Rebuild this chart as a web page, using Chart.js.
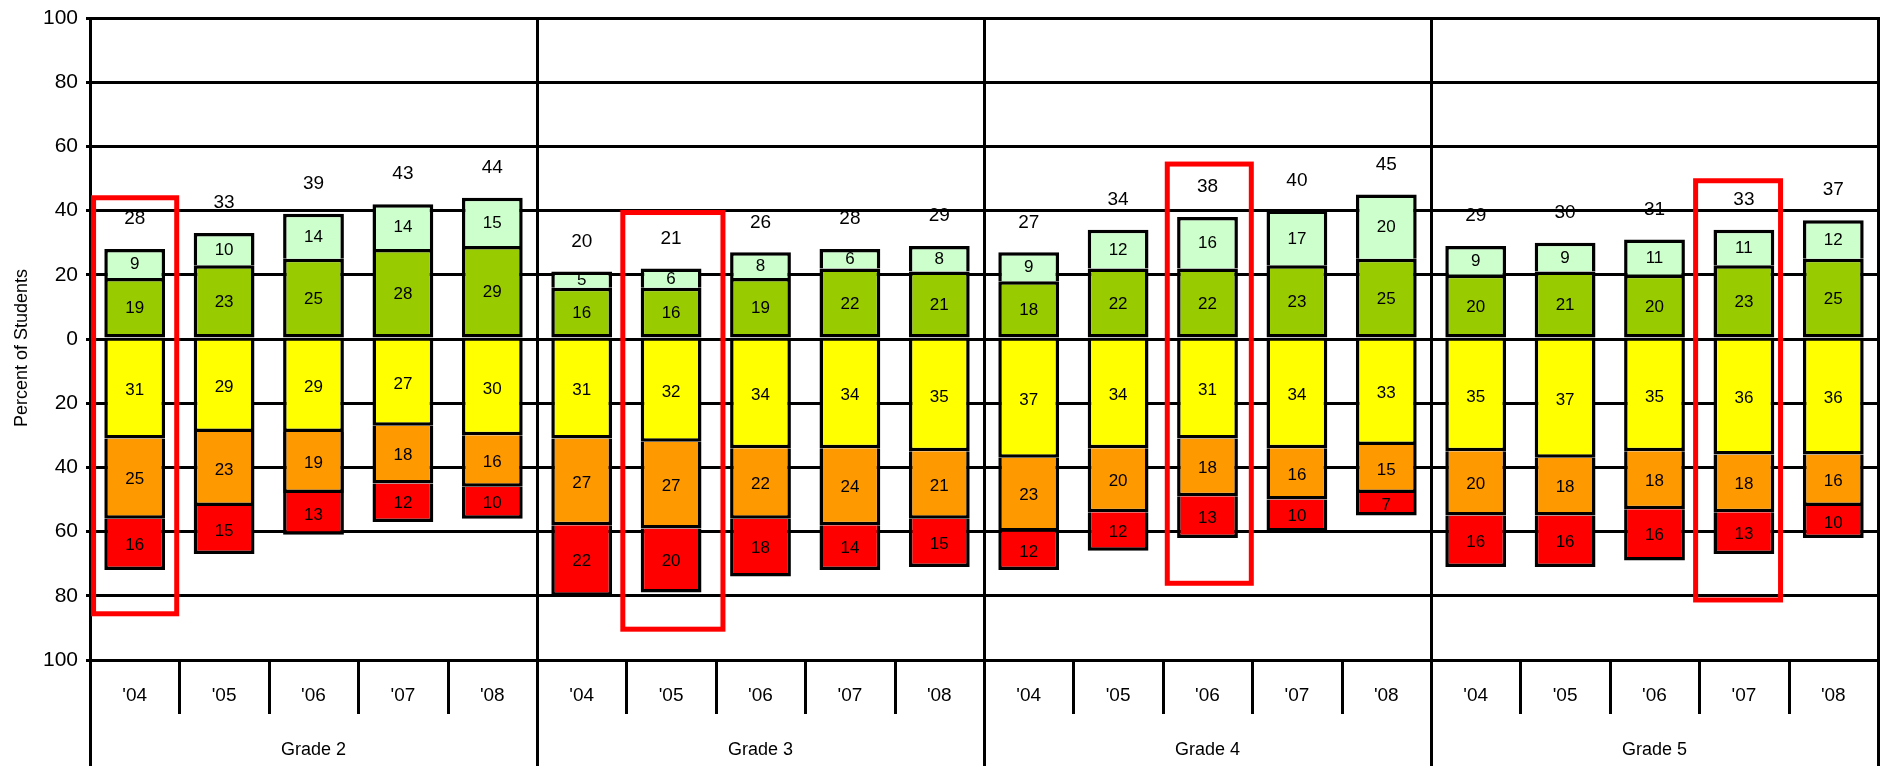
<!DOCTYPE html>
<html>
<head>
<meta charset="utf-8">
<script src="https://cdn.jsdelivr.net/npm/chart.js@4"></script>
<style>
  html, body { margin: 0; padding: 0; background: #ffffff; }
  #wrap { width: 1883px; height: 766px; }
</style>
</head>
<body>
<div id="wrap"><canvas id="c" width="1883" height="766"></canvas></div>
<script>
// ---- data ----
const grades = ['Grade 2', 'Grade 3', 'Grade 4', 'Grade 5'];
const years = ["'04", "'05", "'06", "'07", "'08"];
const advanced      = [9, 10, 14, 14, 15,   5, 6, 8, 6, 8,     9, 12, 16, 17, 20,   9, 9, 11, 11, 12];
const proficient    = [19, 23, 25, 28, 29,  16, 16, 19, 22, 21, 18, 22, 22, 23, 25,  20, 21, 20, 23, 25];
const basic         = [31, 29, 29, 27, 30,  31, 32, 34, 34, 35, 37, 34, 31, 34, 33,  35, 37, 35, 36, 36];
const belowBasic    = [25, 23, 19, 18, 16,  27, 27, 22, 24, 21, 23, 20, 18, 16, 15,  20, 18, 18, 18, 16];
const farBelowBasic = [16, 15, 13, 12, 10,  22, 20, 18, 14, 15, 12, 12, 13, 10, 7,   16, 16, 16, 13, 10];
const totals        = [28, 33, 39, 43, 44,  20, 21, 26, 28, 29, 27, 34, 38, 40, 45,  29, 30, 31, 33, 37];
const yMin = -100, yMax = 100, yStep = 20;
const yTitle = 'Percent of Students';
// highlighted bars (category index, value extent of the red frame)
const highlightIndex  = [0, 6, 12, 18];
const highlightTop    = [44, 39.4, 54.5, 49.3];
const highlightBottom = [-85.6, -90.4, -76.1, -81.3];

// ---- derived ----
const categories = [];
grades.forEach(g => years.forEach(y => categories.push(y)));
const perGroup = years.length;

const FONT = "'Liberation Sans', Arial, sans-serif";
const frameLeft  = [-0.46, -0.54, -0.45, -0.54];
const frameRight = [0.47, 0.58, 0.49, 0.41];

const decorPlugin = {
  id: 'decor',
  beforeDatasetsDraw(chart) {
    const ctx = chart.ctx, xs = chart.scales.x, ca = chart.chartArea;
    const slot = xs.getPixelForValue(1) - xs.getPixelForValue(0);
    ctx.save();
    ctx.strokeStyle = '#000';
    ctx.lineWidth = 3;
    // group boundaries (incl. outer edges) through plot + axis area
    for (let g = 0; g <= grades.length; g++) {
      let x;
      if (g === 0) x = ca.left;
      else if (g === grades.length) x = ca.right;
      else x = xs.getPixelForValue(g * perGroup) - slot / 2;
      x = Math.round(x) + 0.5;
      ctx.beginPath();
      ctx.moveTo(x, ca.top - 1);
      ctx.lineTo(x, chart.height);
      ctx.stroke();
    }
    // year separators in axis area
    for (let i = 1; i < categories.length; i++) {
      if (i % perGroup === 0) continue;
      const x = Math.round(xs.getPixelForValue(i) - slot / 2) + 0.5;
      ctx.beginPath();
      ctx.moveTo(x, ca.bottom);
      ctx.lineTo(x, ca.bottom + 54);
      ctx.stroke();
    }
    ctx.restore();
  },
  afterDatasetsDraw(chart) {
    const ctx = chart.ctx, xs = chart.scales.x, ys = chart.scales.y, ca = chart.chartArea;
    const slot = xs.getPixelForValue(1) - xs.getPixelForValue(0);
    ctx.save();
    ctx.fillStyle = '#000';
    ctx.textAlign = 'center';
    ctx.textBaseline = 'middle';
    // segment labels
    chart.data.datasets.forEach((ds, di) => {
      const meta = chart.getDatasetMeta(di);
      ctx.font = '17px ' + FONT;
      meta.data.forEach((el, i) => {
        const p = el.getProps(['x', 'y', 'base'], true);
        ctx.fillText(String(Math.abs(ds.data[i])), p.x, (p.y + p.base) / 2 + 1);
      });
    });
    // totals above bars
    ctx.font = '19px ' + FONT;
    const topMeta = chart.getDatasetMeta(1);
    topMeta.data.forEach((el, i) => {
      const p = el.getProps(['x', 'y'], true);
      ctx.fillText(String(totals[i]), p.x, p.y - 30);
    });
    // red frames
    ctx.strokeStyle = '#ff0000';
    ctx.lineWidth = 5;
    highlightIndex.forEach((idx, k) => {
      const cx = xs.getPixelForValue(idx);
      const x0 = cx + frameLeft[k] * slot, x1 = cx + frameRight[k] * slot;
      const y0 = ys.getPixelForValue(highlightTop[k]), y1 = ys.getPixelForValue(highlightBottom[k]);
      ctx.strokeRect(x0, y0, x1 - x0, y1 - y0);
    });
    // grade labels
    ctx.font = '18px ' + FONT;
    grades.forEach((g, gi) => {
      const a = xs.getPixelForValue(gi * perGroup), b = xs.getPixelForValue(gi * perGroup + perGroup - 1);
      ctx.fillText(g, (a + b) / 2, ca.bottom + 90);
    });
    // y title
    ctx.font = '18px ' + FONT;
    ctx.translate(22, 348);
    ctx.rotate(-Math.PI / 2);
    ctx.fillText(yTitle, 0, 0);
    ctx.restore();
  }
};

const mk = (label, data, color, skip) => ({
  label, data, backgroundColor: color, borderColor: '#000', borderWidth: 3.5,
  borderSkipped: skip, barPercentage: 0.68, categoryPercentage: 1.0
});

new Chart(document.getElementById('c'), {
  type: 'bar',
  data: {
    labels: categories,
    datasets: [
      mk('Proficient', proficient, '#99cc00', false),
      mk('Advanced', advanced, '#ccffcc', 'start'),
      mk('Basic', basic.map(v => -v), '#ffff00', 'start'),
      mk('Below Basic', belowBasic.map(v => -v), '#ff9900', 'start'),
      mk('Far Below Basic', farBelowBasic.map(v => -v), '#ff0000', 'start')
    ]
  },
  options: {
    responsive: false,
    animation: false,
    devicePixelRatio: 1,
    layout: { padding: { top: 18, right: 5, left: 0, bottom: 0 } },
    plugins: { legend: { display: false }, tooltip: { enabled: false } },
    scales: {
      x: {
        stacked: true,
        grid: { display: false },
        border: { display: true, color: '#000', width: 3 },
        ticks: { color: '#000', font: { size: 19, family: FONT }, padding: 16, maxRotation: 0, autoSkip: false },
        afterFit(s) { s.height = 106; s.paddingLeft = 0; s.paddingRight = 0; }
      },
      y: {
        stacked: true,
        min: yMin, max: yMax,
        ticks: { stepSize: yStep, color: '#000', font: { size: 21, family: FONT }, padding: 8,
                 callback: v => String(Math.abs(v)) },
        grid: { color: '#000', lineWidth: 3, tickLength: 4, drawTicks: true },
        border: { display: true, color: '#000', width: 3 },
        afterFit(s) { s.width = 90; s.paddingTop = 0; s.paddingBottom = 0; }
      }
    }
  },
  plugins: [decorPlugin]
});
</script>
</body>
</html>
